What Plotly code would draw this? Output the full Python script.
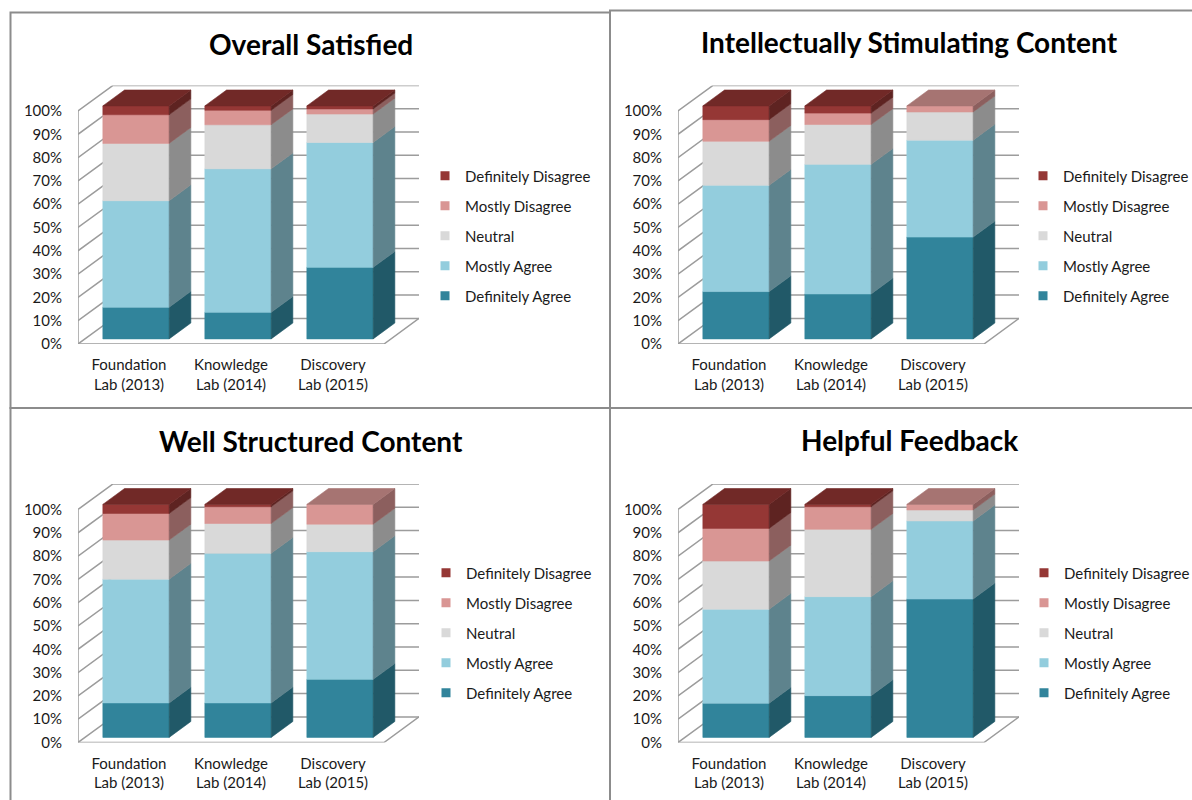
import plotly.graph_objects as go

W, H = 1192, 800
FONT = "Lato, 'Open Sans', Arial, sans-serif"

# ---------------- data ----------------
categories = ["Foundation Lab (2013)", "Knowledge Lab (2014)", "Discovery Lab (2015)"]
series_names = ["Definitely Agree", "Mostly Agree", "Neutral", "Mostly Disagree", "Definitely Disagree"]
panel_titles = ["Overall Satisfied", "Intellectually Stimulating Content",
                "Well Structured Content", "Helpful Feedback"]
y_ticks = [0, 10, 20, 30, 40, 50, 60, 70, 80, 90, 100]
y_tick_labels = ["0%", "10%", "20%", "30%", "40%", "50%", "60%", "70%", "80%", "90%", "100%"]

# Overall Satisfied (percent of responses)
overall_definitely_agree = [13.6, 11.4, 30.7]
overall_mostly_agree = [45.7, 61.6, 53.6]
overall_neutral = [24.6, 18.9, 12.2]
overall_mostly_disagree = [12.3, 6.2, 2.2]
overall_definitely_disagree = [3.8, 1.9, 1.3]

# Intellectually Stimulating Content
stimulating_definitely_agree = [20.3, 19.3, 43.7]
stimulating_mostly_agree = [45.6, 55.6, 41.6]
stimulating_neutral = [18.9, 17.1, 12.1]
stimulating_mostly_disagree = [9.3, 4.9, 2.6]
stimulating_definitely_disagree = [5.9, 3.1, 0.0]

# Well Structured Content
structured_definitely_agree = [14.8, 14.8, 24.9]
structured_mostly_agree = [53.1, 64.2, 54.8]
structured_neutral = [16.8, 12.8, 11.8]
structured_mostly_disagree = [11.4, 7.2, 8.5]
structured_definitely_disagree = [3.9, 1.0, 0.0]

# Helpful Feedback
feedback_definitely_agree = [14.7, 17.9, 59.4]
feedback_mostly_agree = [40.3, 42.5, 33.5]
feedback_neutral = [20.7, 28.9, 4.7]
feedback_mostly_disagree = [14.0, 9.7, 2.4]
feedback_definitely_disagree = [10.3, 1.0, 0.0]

panels = [
    [overall_definitely_agree, overall_mostly_agree, overall_neutral,
     overall_mostly_disagree, overall_definitely_disagree],
    [stimulating_definitely_agree, stimulating_mostly_agree, stimulating_neutral,
     stimulating_mostly_disagree, stimulating_definitely_disagree],
    [structured_definitely_agree, structured_mostly_agree, structured_neutral,
     structured_mostly_disagree, structured_definitely_disagree],
    [feedback_definitely_agree, feedback_mostly_agree, feedback_neutral,
     feedback_mostly_disagree, feedback_definitely_disagree],
]

# ---------------- style ----------------
front_colors = ["#31849B", "#93CDDD", "#D9D9D9", "#D99694", "#953735"]
side_colors = ["#215968", "#5E838D", "#8C8C8C", "#8C5F5E", "#5E2321"]
top_colors = ["#28697B", "#76A5B2", "#B0B0B0", "#A67472", "#712927"]
GRID_COLOR = "#9C9C9C"
BORDER_COLOR = "#8C8C8C"
TEXT_COLOR = "#1A1A1A"
TICK_SIZE = 15
LEGEND_SIZE = 15
TITLE_SIZE = 28

CAT_PX = 102.0          # pixels per category
PX_PER_PCT = 2.33       # pixels per percent
DEPTH_PX = (35.0, 25.6)  # oblique depth (right, up)
BAR_W = 0.65
T0, T1 = 0.2, 0.82      # bar front/back depth fractions
DXU = DEPTH_PX[0] / CAT_PX
DYU = DEPTH_PX[1] / PX_PER_PCT

# pixel origin (front-left floor corner) for each panel
origins = [(78, 344), (678, 344), (78, 742.5), (678, 742.5)]
legend_origins = [(465, 175.5), (1063, 175.5), (466, 572.5), (1064, 572.5)]
title_pos = [(310.5, 44), (909, 42), (310.5, 441), (909.5, 440)]

fig = go.Figure()
ncat = len(categories)
tick_text = [c.replace(" Lab", "<br>Lab") for c in categories]

for p, values in enumerate(panels):
    k = p + 1
    xa = "x" if k == 1 else f"x{k}"
    ya = "y" if k == 1 else f"y{k}"
    lg = "legend" if k == 1 else f"legend{k}"

    # legend entries (top to bottom: Definitely Disagree ... Definitely Agree)
    for s in reversed(range(len(series_names))):
        fig.add_trace(go.Scatter(
            x=[None], y=[None], mode="markers", name=series_names[s],
            marker=dict(symbol="square", size=9, color=front_colors[s]),
            legend=lg, legendgroup=f"p{k}_{s}", xaxis=xa, yaxis=ya,
            hoverinfo="skip"))

    # walls / gridlines
    gx, gy = [], []
    x_left, x_right = -0.5, ncat - 0.5
    for v in y_ticks:
        gx += [x_left, x_left + DXU, x_right + DXU, None]
        gy += [v, v + DYU, v + DYU, None]
    gx += [x_left, x_left, None, x_left, x_right, x_right + DXU, None]
    gy += [0, 100, None, 0, 0, DYU, None]
    fig.add_trace(go.Scatter(x=gx, y=gy, mode="lines",
                             line=dict(color=GRID_COLOR, width=1.5),
                             showlegend=False, hoverinfo="skip",
                             xaxis=xa, yaxis=ya))

    # bars (oblique 3D)
    cum = [0.0] * ncat
    top_series = [max(i for i in range(len(series_names)) if values[i][c] > 0)
                  for c in range(ncat)]
    for s, vals in enumerate(values):
        fx, fy, sx, sy, tx, ty = [], [], [], [], [], []
        hx, hy, ht = [], [], []
        for c in range(ncat):
            lo = cum[c]
            hi = lo + vals[c]
            cum[c] = hi
            if vals[c] <= 0:
                continue
            xl, xr = c - BAR_W / 2, c + BAR_W / 2
            ox0, oy0 = T0 * DXU, T0 * DYU
            ox1, oy1 = T1 * DXU, T1 * DYU
            fx += [xl + ox0, xr + ox0, xr + ox0, xl + ox0, xl + ox0, None]
            fy += [lo + oy0, lo + oy0, hi + oy0, hi + oy0, lo + oy0, None]
            sx += [xr + ox0, xr + ox1, xr + ox1, xr + ox0, xr + ox0, None]
            sy += [lo + oy0, lo + oy1, hi + oy1, hi + oy0, lo + oy0, None]
            if top_series[c] == s:
                tx += [xl + ox0, xr + ox0, xr + ox1, xl + ox1, xl + ox0, None]
                ty += [hi + oy0, hi + oy0, hi + oy1, hi + oy1, hi + oy0, None]
            hx.append(c + ox0)
            hy.append((lo + hi) / 2 + oy0)
            ht.append(f"{categories[c]}<br>{series_names[s]}: {vals[c]:.1f}%")
        for px, py, col in ((fx, fy, front_colors[s]), (sx, sy, side_colors[s]),
                            (tx, ty, top_colors[s])):
            if not px:
                continue
            fig.add_trace(go.Scatter(
                x=px, y=py, mode="lines", fill="toself", fillcolor=col,
                line=dict(width=0.6, color=col), showlegend=False,
                legendgroup=f"p{k}_{s}", legend=lg, hoverinfo="skip",
                xaxis=xa, yaxis=ya))
        fig.add_trace(go.Scatter(
            x=hx, y=hy, mode="markers", marker=dict(size=1, opacity=0),
            text=ht, hoverinfo="text", showlegend=False,
            legendgroup=f"p{k}_{s}", legend=lg, xaxis=xa, yaxis=ya))

    # axes
    x0, y0 = origins[p]
    width_px = ncat * CAT_PX + DEPTH_PX[0]
    height_px = (100 + DYU) * PX_PER_PCT
    fig.layout[("xaxis" if k == 1 else f"xaxis{k}")] = dict(
        domain=[x0 / W, (x0 + width_px) / W], range=[-0.5, ncat - 0.5 + DXU],
        anchor=ya, tickmode="array", tickvals=list(range(ncat)), ticktext=tick_text,
        ticks="outside", ticklen=7, tickcolor="rgba(0,0,0,0)", automargin=False,
        showgrid=False, zeroline=False, showline=False, fixedrange=True,
        tickfont=dict(family=FONT, size=TICK_SIZE, color=TEXT_COLOR))
    fig.layout[("yaxis" if k == 1 else f"yaxis{k}")] = dict(
        domain=[1 - y0 / H, 1 - (y0 - height_px) / H], range=[0, 100 + DYU],
        anchor=xa, tickmode="array", tickvals=y_ticks, ticktext=y_tick_labels,
        ticks="outside", ticklen=12, tickcolor="rgba(0,0,0,0)", automargin=False,
        showgrid=False, zeroline=False, showline=False, fixedrange=True,
        tickfont=dict(family=FONT, size=TICK_SIZE, color=TEXT_COLOR))

    lx, ly = legend_origins[p]
    fig.layout[lg] = dict(
        x=(lx - 40) / W, y=1 - (ly - 16) / H, xanchor="left", yanchor="top",
        traceorder="grouped", tracegroupgap=7.5, bgcolor="rgba(0,0,0,0)",
        font=dict(family=FONT, size=LEGEND_SIZE, color=TEXT_COLOR), itemwidth=30)

    tx_, ty_ = title_pos[p]
    fig.add_annotation(x=tx_ / W, y=1 - ty_ / H, xref="paper", yref="paper",
                       text=f"<b>{panel_titles[p]}</b>", showarrow=False,
                       xanchor="center", yanchor="middle",
                       font=dict(family=FONT, size=TITLE_SIZE, color="#000000"))

# panel borders
border = dict(color=BORDER_COLOR, width=2)
for (xa0, ya0, xa1, ya1) in [(10.5, 12.5, 610, 408), (610, 10.5, 1200, 408),
                             (10.5, 408, 610, 810), (610, 408, 1200, 810)]:
    fig.add_shape(type="rect", xref="paper", yref="paper",
                  x0=xa0 / W, x1=xa1 / W, y0=1 - ya0 / H, y1=1 - ya1 / H,
                  line=border, fillcolor="rgba(0,0,0,0)", layer="below")

fig.update_layout(template="none", width=W, height=H,
                  margin=dict(l=0, r=0, t=0, b=0, pad=0, autoexpand=False),
                  paper_bgcolor="white", plot_bgcolor="rgba(0,0,0,0)",
                  font=dict(family=FONT, color=TEXT_COLOR), hovermode="closest")

fig.write_html("out.html")
